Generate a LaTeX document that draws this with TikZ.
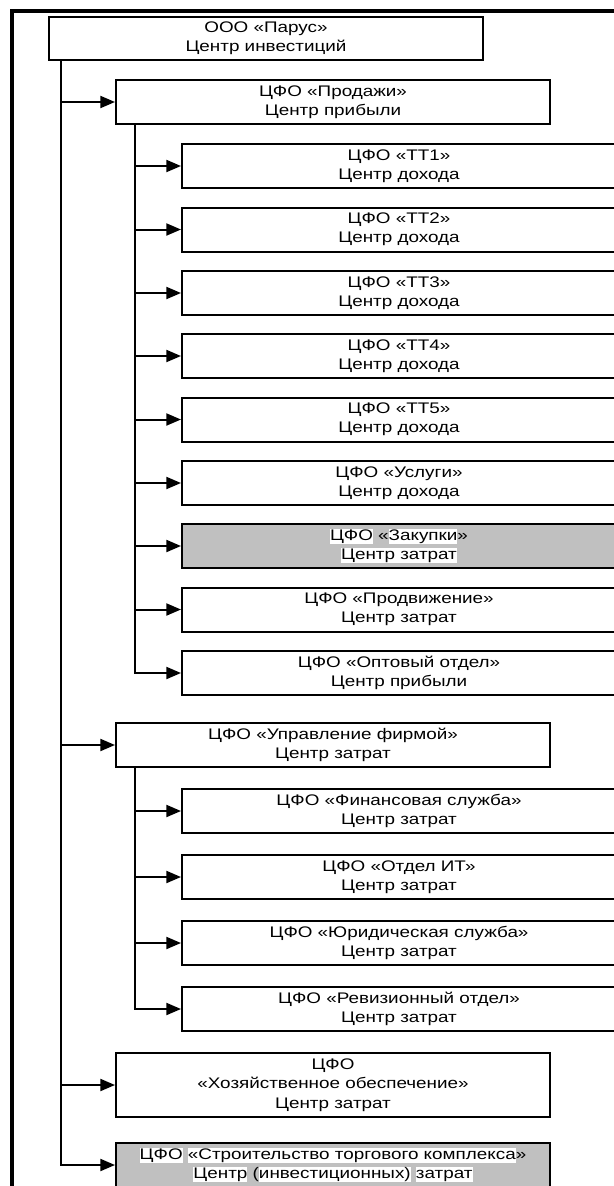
\documentclass[tikz,border=0pt]{standalone}
\usepackage{fontspec}
\setmainfont{Liberation Sans}[FakeStretch=1.23]
\usetikzlibrary{positioning,arrows.meta}
\definecolor{boxgray}{RGB}{192,192,192}
\newcommand{\hl}[1]{{\setlength{\fboxsep}{0pt}\colorbox{white}{\rule[-0.25em]{0pt}{1em}#1}}}
\tikzset{
  wire/.style  = {line width=1.5pt},
  awire/.style = {line width=1.5pt, -{Triangle[length=11pt,width=9pt]}},
  frm/.style   = {line width=3pt},
  cbox/.style  = {draw, line width=1.5pt, fill=white, minimum width=325.5pt,
                  minimum height=33pt, inner sep=0pt, align=center,
                  font=\fontsize{11.5}{14.5}\selectfont},
  gcbox/.style = {cbox, fill=boxgray},
}

\begin{document}
\begin{tikzpicture}[x=0.75pt,y=-0.75pt]
  \clip (0,0) rectangle (614,1186);
  % outer frame
  \draw[frm] (11.5,1200) |- (640,11);
  % top level
  \node[cbox, minimum height=32.25pt] (root) at (266,38.5) {ООО «Парус»\\Центр инвестиций};
  % first branch: sales
  \node[cbox] (sales) at (333,102) {ЦФО «Продажи»\\Центр прибыли};
  \node[cbox] (tt1) at (399,166)   {ЦФО «ТТ1»\\Центр дохода};
  \node[cbox] (tt2) at (399,229.5) {ЦФО «ТТ2»\\Центр дохода};
  \node[cbox] (tt3) at (399,293)   {ЦФО «ТТ3»\\Центр дохода};
  \node[cbox] (tt4) at (399,356)   {ЦФО «ТТ4»\\Центр дохода};
  \node[cbox] (tt5) at (399,419.5) {ЦФО «ТТ5»\\Центр дохода};
  \node[cbox] (serv) at (399,483)  {ЦФО «Услуги»\\Центр дохода};
  \node[gcbox] (purch) at (399,546) {\hl{ЦФО} «\hl{Закупки}»\\\hl{Центр затрат}};
  \node[cbox] (promo) at (399,609.5) {ЦФО «Продвижение»\\Центр затрат};
  \node[cbox] (whole) at (399,673) {ЦФО «Оптовый отдел»\\Центр прибыли};
  % second branch: management
  \node[cbox] (mgmt) at (333,745) {ЦФО «Управление фирмой»\\Центр затрат};
  \node[cbox] (fin) at (399,811)   {ЦФО «Финансовая служба»\\Центр затрат};
  \node[cbox] (it) at (399,877)    {ЦФО «Отдел ИТ»\\Центр затрат};
  \node[cbox] (legal) at (399,943) {ЦФО «Юридическая служба»\\Центр затрат};
  \node[cbox] (audit) at (399,1009) {ЦФО «Ревизионный отдел»\\Центр затрат};
  % last two
  \node[cbox, minimum height=48pt] (supply) at (333,1085)
    {ЦФО\\«Хозяйственное обеспечение»\\Центр затрат};
  \node[gcbox] (build) at (333,1165)
    {\hl{ЦФО} \hl{«Строительство торгового комплекса}»\\\hl{Центр} (\hl{инвестиционных)} \hl{затрат}};
  % connectors from the root
  \foreach \n in {sales,mgmt,supply,build}
    \draw[awire] ([xshift=9.75pt]root.south west) |- (\n);
  % connectors inside the branches
  \foreach \n in {tt1,tt2,tt3,tt4,tt5,serv,purch,promo,whole}
    \draw[awire] ([xshift=15pt]sales.south west) |- (\n);
  \foreach \n in {fin,it,legal,audit}
    \draw[awire] ([xshift=15pt]mgmt.south west) |- (\n);
\end{tikzpicture}
\end{document}
